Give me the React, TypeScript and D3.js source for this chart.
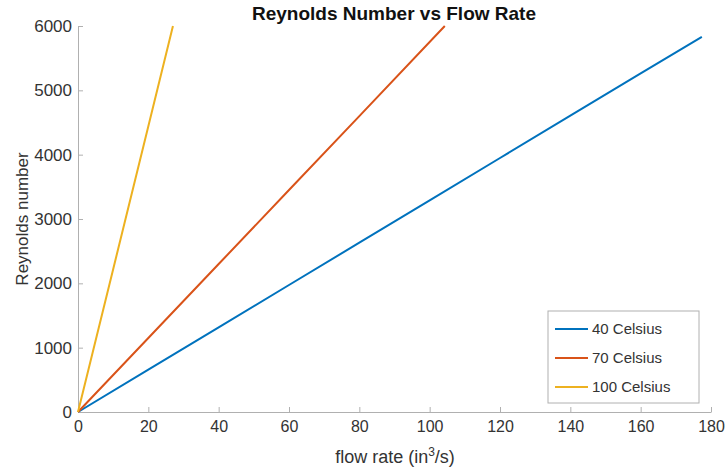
import React, { useRef, useEffect } from 'react';
import * as d3 from 'd3';

// values (flow rate in^3/s, Reynolds number)
const flow40 = [0, 20, 40, 60, 80, 100, 120, 140, 160, 177.4];
const re40 = [0, 658, 1316, 1974, 2632, 3290, 3948, 4606, 5264, 5830];
const flow70 = [0, 20, 40, 60, 80, 104.3];
const re70 = [0, 1150, 2300, 3450, 4600, 6000];
const flow100 = [0, 10, 20, 27.0];
const re100 = [0, 2220, 4440, 6000];

const seriesNames = ['40 Celsius', '70 Celsius', '100 Celsius'];
const colors = ['#0072BD', '#D95319', '#EDB120'];
const xTicks = [0, 20, 40, 60, 80, 100, 120, 140, 160, 180];
const yTicks = [0, 1000, 2000, 3000, 4000, 5000, 6000];

const App = () => {
  const svgRef = useRef<SVGSVGElement>(null);
  const width = 728;
  const height = 471;
  const margin = { left: 78, right: 17, top: 26, bottom: 59 };

  useEffect(() => {
    const svg = d3.select(svgRef.current);
    svg.selectAll('*').remove();
    const font = 'Liberation Sans, Arial, sans-serif';

    const x = d3.scaleLinear().domain([0, 180]).range([margin.left, width - margin.right]);
    const y = d3.scaleLinear().domain([0, 6000]).range([height - margin.bottom, margin.top]);

    const xAxis = svg
      .append('g')
      .attr('transform', `translate(0, ${height - margin.bottom})`)
      .call(d3.axisBottom(x).tickValues(xTicks).tickFormat(d3.format('d')).tickSize(-5).tickPadding(9).tickSizeOuter(0));
    xAxis.select('.domain').attr('stroke', '#b0b0b0');
    xAxis.selectAll('.tick line').attr('stroke', '#b0b0b0');
    xAxis.selectAll('.tick text').attr('fill', '#333').style('font-size', '16px').style('font-family', font);

    const yAxis = svg
      .append('g')
      .attr('transform', `translate(${margin.left}, 0)`)
      .call(d3.axisLeft(y).tickValues(yTicks).tickFormat(d3.format('d')).tickSize(-5).tickPadding(6).tickSizeOuter(0));
    yAxis.select('.domain').attr('stroke', '#b0b0b0');
    yAxis.selectAll('.tick line').attr('stroke', '#b0b0b0');
    yAxis.selectAll('.tick text').attr('fill', '#333').style('font-size', '17px').style('font-family', font);

    const series = [
      flow40.map((f, i) => [f, re40[i]]),
      flow70.map((f, i) => [f, re70[i]]),
      flow100.map((f, i) => [f, re100[i]]),
    ];
    const line = d3
      .line<number[]>()
      .x((d) => x(d[0]))
      .y((d) => y(d[1]));

    series.forEach((s, i) => {
      svg
        .append('path')
        .datum(s)
        .attr('d', line)
        .attr('fill', 'none')
        .attr('stroke', colors[i])
        .attr('stroke-width', 2);
    });

    // title & labels
    svg
      .append('text')
      .attr('x', 394)
      .attr('y', 20)
      .attr('text-anchor', 'middle')
      .style('font-family', font)
      .style('font-weight', 'bold')
      .style('font-size', '19px')
      .attr('fill', '#111')
      .text('Reynolds Number vs Flow Rate');

    const xl = svg
      .append('text')
      .attr('x', 395)
      .attr('y', 463)
      .attr('text-anchor', 'middle')
      .style('font-family', font)
      .style('font-size', '18px')
      .attr('fill', '#333');
    xl.append('tspan').text('flow rate (in');
    xl.append('tspan').attr('dy', -7).style('font-size', '12px').text('3');
    xl.append('tspan').attr('dy', 7).text('/s)');

    svg
      .append('text')
      .attr('transform', `translate(28, ${(margin.top + height - margin.bottom) / 2}) rotate(-90)`)
      .attr('text-anchor', 'middle')
      .style('font-family', font)
      .style('font-size', '17px')
      .attr('fill', '#333')
      .text('Reynolds number');

    // legend
    const lg = svg.append('g').attr('transform', 'translate(548, 311)');
    lg.append('rect')
      .attr('width', 151)
      .attr('height', 92)
      .attr('fill', '#fff')
      .attr('stroke', '#b0b0b0');
    seriesNames.forEach((n, i) => {
      const yy = 18 + i * 29;
      lg.append('line')
        .attr('x1', 7)
        .attr('x2', 40)
        .attr('y1', yy)
        .attr('y2', yy)
        .attr('stroke', colors[i])
        .attr('stroke-width', 2);
      lg.append('text')
        .attr('x', 44)
        .attr('y', yy + 5)
        .style('font-family', font)
        .style('font-size', '15px')
        .attr('fill', '#333')
        .text(n);
    });
  }, []);

  return (
    <div>
      <svg ref={svgRef} width={width} height={height} style={{ position: 'absolute', left: 0, top: 0 }}></svg>
    </div>
  );
};

export default App;
